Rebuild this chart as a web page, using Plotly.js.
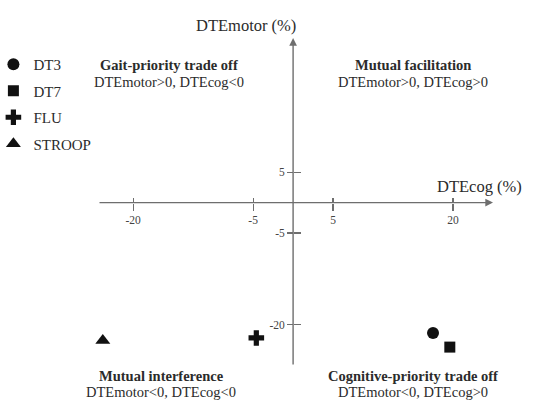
<!DOCTYPE html>
<html>
<head>
<meta charset="utf-8">
<script src="https://cdn.plot.ly/plotly-3.0.1.min.js"></script>
<style>html,body{margin:0;padding:0;background:#fff;}#chart{width:550px;height:401px;}</style>
</head>
<body>
<div id="chart"></div>
<script>
// ---- data ----
const categories = ['DT3', 'DT7', 'FLU', 'STROOP'];
const dteCog = [17.5, 19.6, -4.6, -23.8];     // x values (%)
const dteMotor = [-21.4, -23.7, -22.2, -22.6]; // y values (%)
const symbols = ['circle', 'square', 'cross', 'triangle-up'];
const sizes = [12, 11, 13, 13];
const xTicks = [-20, -5, 5, 20];
const yTicks = [5, -5, -20];

// ---- layout helpers ----
const W = 550, H = 401;
const FONT = 'Liberation Serif';
const TXT = '#2b2b2b';
const AX = '#6e6e6e';
const xDom = [98 / W, 493 / W];
const yDom = [35 / H, 363 / H];
const xRange = [-24.4, 25];
const yRange = [-26.8, 27];
const xAxisPos = yDom[0] + (0 - yRange[0]) / (yRange[1] - yRange[0]) * (yDom[1] - yDom[0]);
const yAxisPos = xDom[0] + (0 - xRange[0]) / (xRange[1] - xRange[0]) * (xDom[1] - xDom[0]);
const px = v => v / W;
const py = v => 1 - v / H;

const traces = categories.map((c, i) => ({
  type: 'scatter', mode: 'markers', name: c,
  x: [dteCog[i]], y: [dteMotor[i]],
  legendgroup: c,
  marker: {symbol: symbols[i], size: sizes[i], color: '#111', line: {width: 0}},
  cliponaxis: false, hoverinfo: 'skip'
}));
traces.push({type: 'scatter', mode: 'markers', x: [null], y: [null], xaxis: 'x2', yaxis: 'y2', showlegend: false, hoverinfo: 'skip'});

const baseAxis = {
  showgrid: false, zeroline: false, showline: false, fixedrange: true,
  tickmode: 'array', tickcolor: AX, tickwidth: 1.2,
  tickfont: {family: FONT, size: 11.5, color: '#444'}
};

function textAnn(text, x, y, size) {
  return {xref: 'paper', yref: 'paper', x: px(x), y: py(y), text: text, showarrow: false,
    xanchor: 'center', yanchor: 'middle', font: {family: FONT, size: size, color: TXT}};
}

const annotations = [
  {xref: 'x', yref: 'y', axref: 'x', ayref: 'y', x: xRange[1], y: 0, ax: xRange[0], ay: 0, text: '',
   showarrow: true, arrowhead: 2, arrowsize: 1.1, arrowwidth: 1.4, arrowcolor: AX},
  {xref: 'x', yref: 'y', axref: 'x', ayref: 'y', x: 0, y: yRange[1], ax: 0, ay: yRange[0], text: '',
   showarrow: true, arrowhead: 2, arrowsize: 1.1, arrowwidth: 1.4, arrowcolor: AX},
  textAnn('DTEmotor (%)', 246, 26, 16.5),
  textAnn('DTEcog (%)', 479.5, 187, 16.5),
  textAnn('<b>Gait-priority trade off</b>', 169, 65, 14.5),
  textAnn('DTEmotor>0, DTEcog<0', 169, 82, 14.5),
  textAnn('<b>Mutual facilitation</b>', 412.5, 65, 14.5),
  textAnn('DTEmotor>0, DTEcog>0', 412.5, 82, 14.5),
  textAnn('<b>Mutual interference</b>', 161, 376, 14.5),
  textAnn('DTEmotor<0, DTEcog<0', 161, 392, 14.5),
  textAnn('<b>Cognitive-priority trade off</b>', 413, 376, 14.5),
  textAnn('DTEmotor<0, DTEcog>0', 413, 392, 14.5)
];

const layout = {
  width: W, height: H,
  margin: {l: 0, r: 0, t: 0, b: 0, pad: 0, autoexpand: false},
  paper_bgcolor: '#fff', plot_bgcolor: 'rgba(0,0,0,0)',
  showlegend: true,
  legend: {x: -0.012, y: py(48), xanchor: 'left', yanchor: 'top', tracegroupgap: 4,
    font: {family: FONT, size: 15, color: TXT}, bgcolor: 'rgba(0,0,0,0)', itemwidth: 30},
  xaxis: Object.assign({}, baseAxis, {domain: xDom, range: xRange, anchor: 'free', position: xAxisPos,
    tickvals: xTicks, ticktext: xTicks.map(String), ticks: 'outside', ticklen: 7}),
  yaxis: Object.assign({}, baseAxis, {domain: yDom, range: yRange, anchor: 'free', position: yAxisPos,
    tickvals: yTicks, ticktext: yTicks.map(String), ticks: 'outside', ticklen: 6}),
  xaxis2: Object.assign({}, baseAxis, {domain: xDom, range: xRange, anchor: 'free', position: xAxisPos,
    overlaying: 'x', tickvals: xTicks, ticks: 'inside', ticklen: 5, showticklabels: false}),
  yaxis2: Object.assign({}, baseAxis, {domain: yDom, range: yRange, anchor: 'free', position: yAxisPos,
    overlaying: 'y', tickvals: yTicks, ticks: 'inside', ticklen: 7, showticklabels: false}),
  annotations: annotations
};

Plotly.newPlot('chart', traces, layout, {staticPlot: true, displayModeBar: false});
</script>
</body>
</html>
